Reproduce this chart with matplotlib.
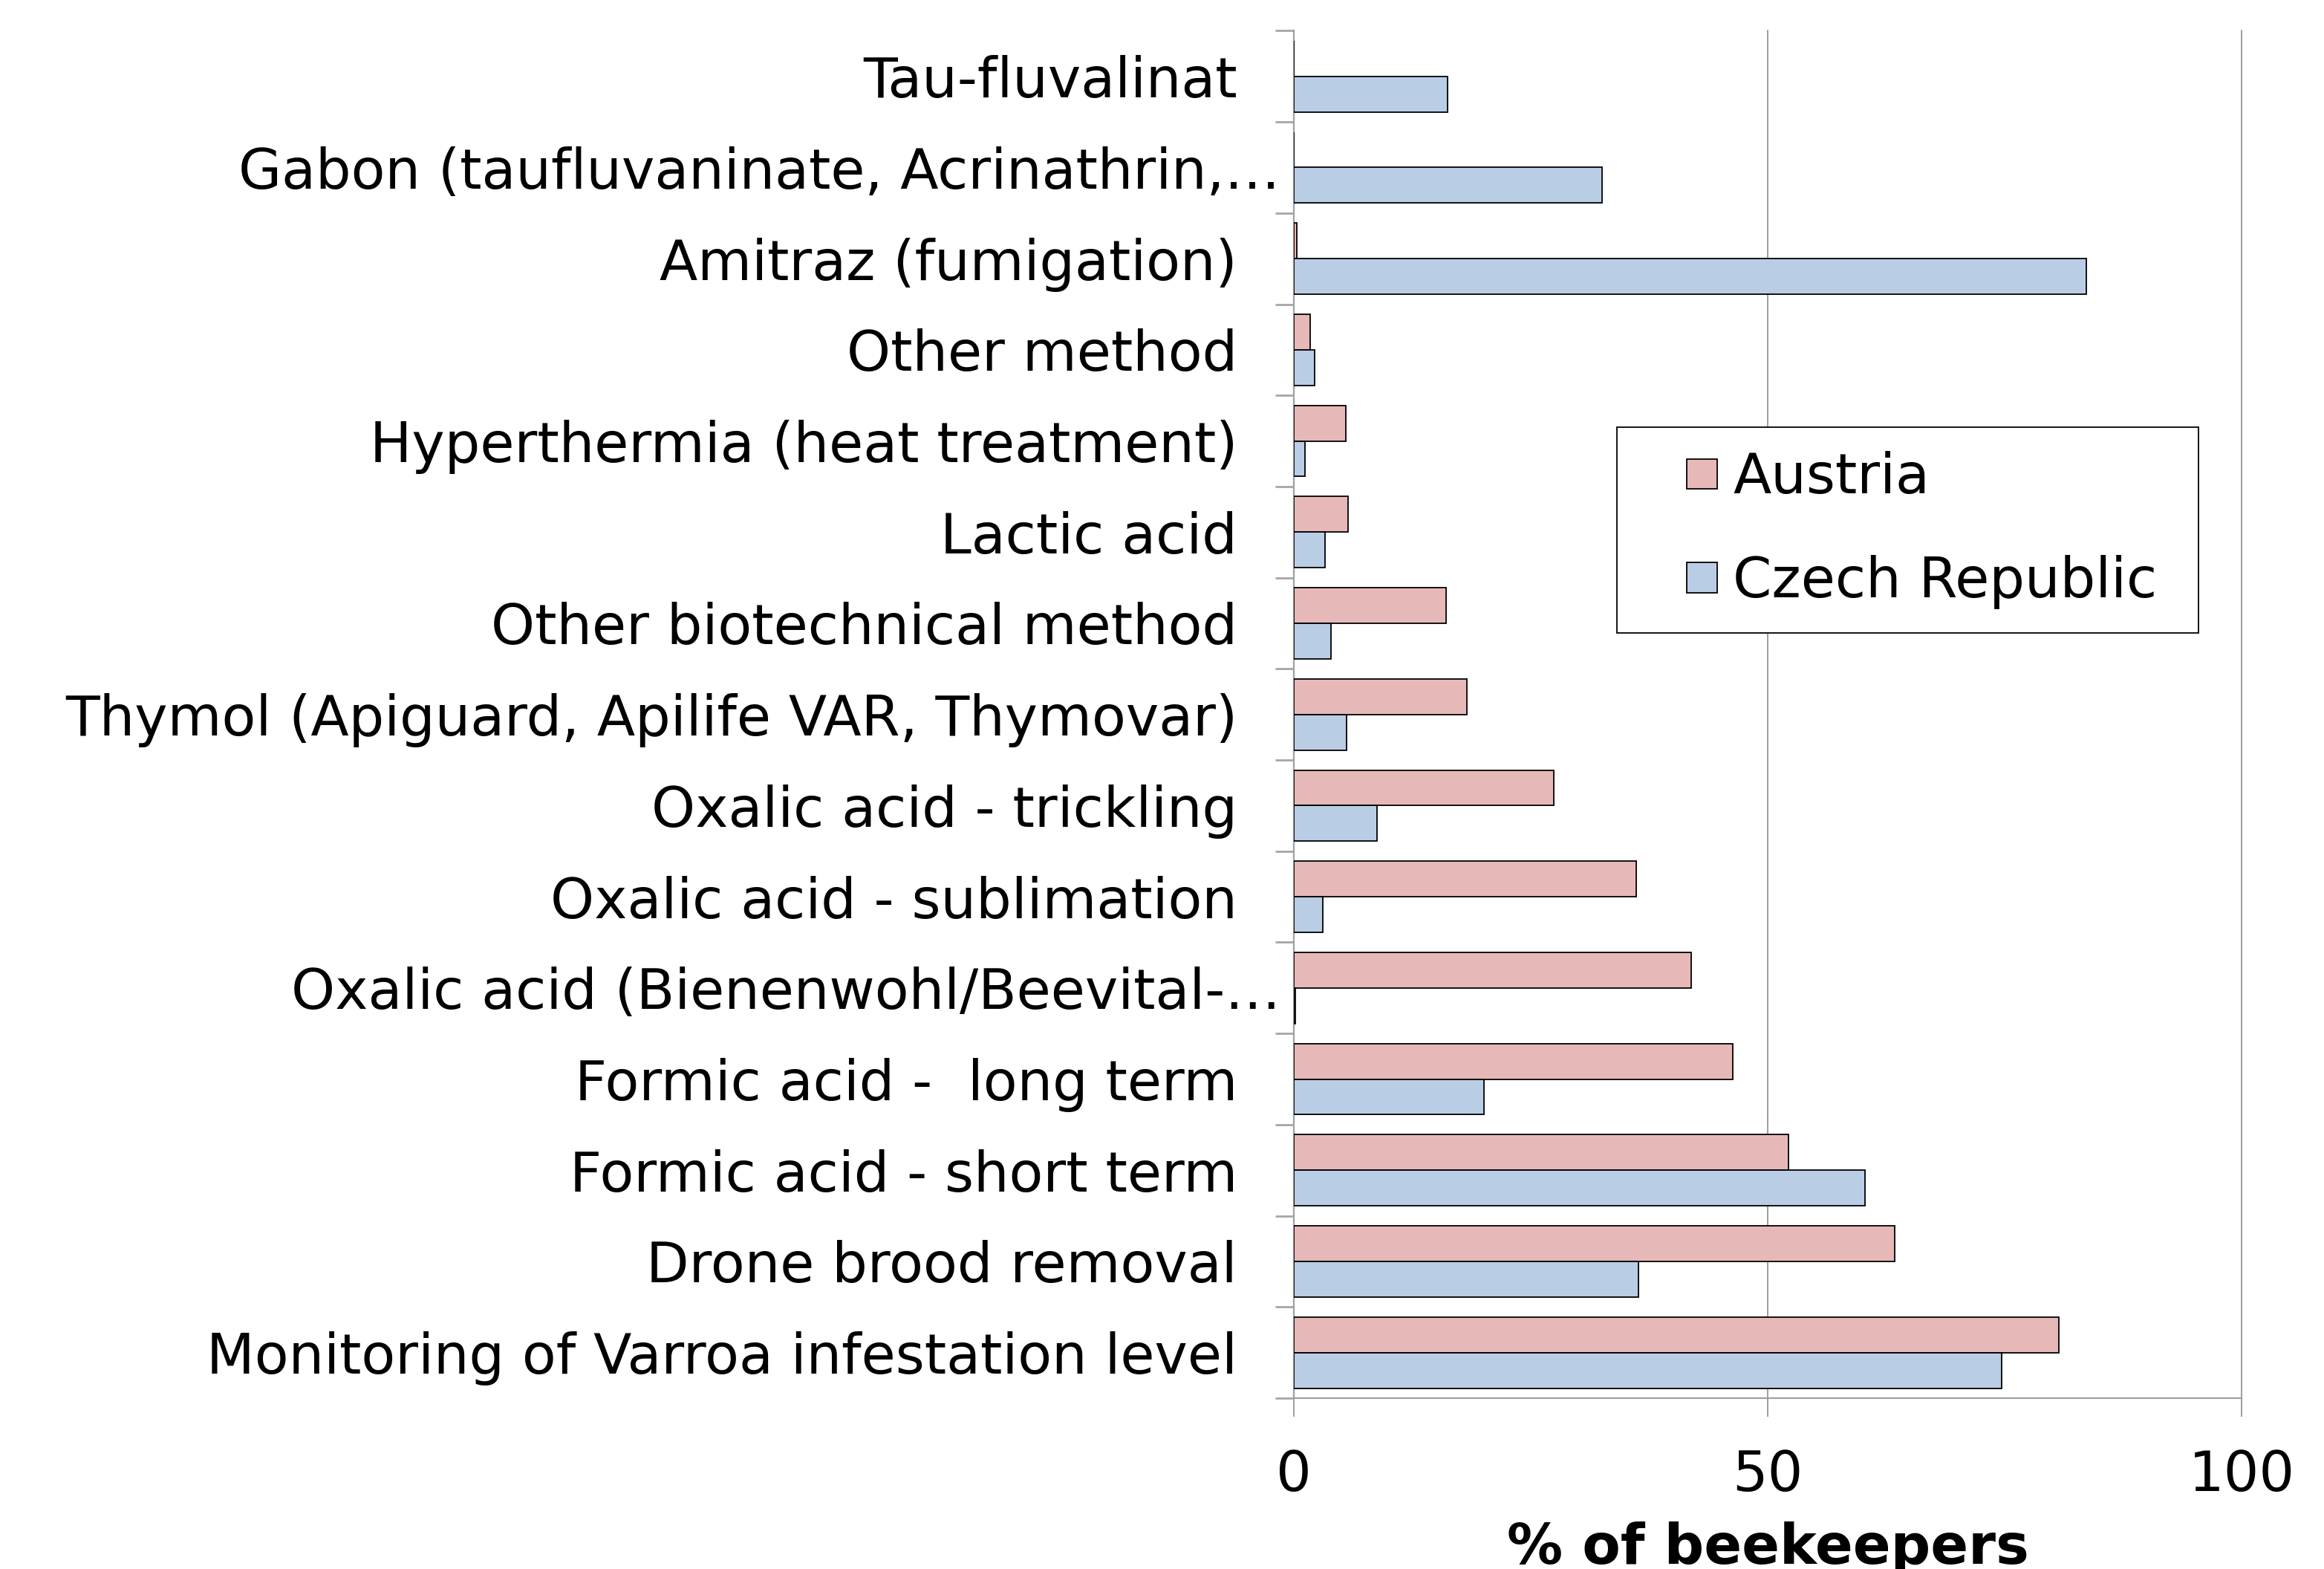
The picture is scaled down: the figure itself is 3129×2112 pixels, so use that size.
import numpy as np
import matplotlib.pyplot as plt
from matplotlib.patches import Patch, Rectangle
from matplotlib.legend_handler import HandlerPatch
from matplotlib.transforms import ScaledTranslation, blended_transform_factory

# categories, top to bottom
methods = [
    'Tau-fluvalinat',
    'Gabon (taufluvaninate, Acrinathrin,\u2026',
    'Amitraz (fumigation)',
    'Other method',
    'Hyperthermia (heat treatment)',
    'Lactic acid',
    'Other biotechnical method',
    'Thymol (Apiguard, Apilife VAR, Thymovar)',
    'Oxalic acid - trickling',
    'Oxalic acid - sublimation',
    'Oxalic acid (Bienenwohl/Beevital-\u2026',
    'Formic acid -  long term',
    'Formic acid - short term',
    'Drone brood removal',
    'Monitoring of Varroa infestation level',
]
truncated = [1, 10]

# % of beekeepers
austria = [0.0, 0.0, 0.3, 1.7, 5.5, 5.7, 16.1, 18.3, 27.4, 36.1,
           41.9, 46.3, 52.2, 63.4, 80.7]
czech = [16.2, 32.5, 83.6, 2.2, 1.2, 3.3, 3.9, 5.6, 8.8, 3.1,
         0.2, 20.1, 60.3, 36.4, 74.7]

C_AT = '#E6B9B8'
C_CZ = '#B9CDE5'
GREY = '#8c8c8c'
FS = 54

plt.rcParams['font.family'] = 'DejaVu Sans'

fig = plt.figure(figsize=(31.29, 21.12), dpi=100)
ax = fig.add_axes([0.5567, 0.1089, 0.4078, 0.8715])

y = np.arange(len(methods))
h = 0.39
ax.barh(y - h / 2, austria, height=h, color=C_AT, edgecolor='black',
        linewidth=1.3, zorder=3)
ax.barh(y + h / 2, czech, height=h, color=C_CZ, edgecolor='black',
        linewidth=1.3, zorder=3)

ax.set_xlim(0, 100)
ax.set_ylim(len(methods) - 0.5, -0.5)

# ticks on category boundaries, labels drawn as text
ax.set_yticks(np.arange(-0.5, len(methods), 1))
ax.set_yticklabels([])
ax.tick_params(axis='y', length=18, width=2, color='#a6a6a6')

ax.set_xticks([0, 50, 100])
ax.tick_params(axis='x', length=18, width=1.2, color=GREY, pad=31,
               labelsize=FS)

trans = blended_transform_factory(ax.transAxes, ax.transData)
for i, name in enumerate(methods):
    dx = -0.18 if i in truncated else -0.76
    off = ScaledTranslation(dx, 0, fig.dpi_scale_trans)
    ax.text(0, i, name, transform=trans + off, ha='right',
            va='center_baseline', fontsize=FS)

ax.xaxis.grid(True, color=GREY, linewidth=1.2, clip_on=False)
ax.set_axisbelow(True)
for side in ['top', 'right']:
    ax.spines[side].set_visible(False)
for side in ['left', 'bottom']:
    ax.spines[side].set_color('#a0a0a0')
    ax.spines[side].set_linewidth(1.6)

ax.set_xlabel('% of beekeepers', fontsize=FS, fontweight='bold')
ax.xaxis.set_label_coords(0.5, -0.09)


def square(legend, orig_handle, xdescent, ydescent, width, height, fontsize):
    sq = 29.5
    return Rectangle((-xdescent + width - sq, -ydescent + (height - sq) / 2),
                     sq, sq)


handles = [Patch(facecolor=C_AT, edgecolor='black', linewidth=1.3),
           Patch(facecolor=C_CZ, edgecolor='black', linewidth=1.3)]
leg = ax.legend(handles, ['Austria', 'Czech Republic'],
                handler_map={Patch: HandlerPatch(patch_func=square)},
                loc='upper left', mode='expand',
                bbox_to_anchor=(0.69575, 0.59659, 0.25024, 0.13116),
                bbox_transform=fig.transFigure, borderaxespad=0,
                fontsize=FS, handlelength=1.37, handletextpad=0.28,
                labelspacing=0.89, borderpad=0.43, fancybox=False,
                framealpha=1)
leg.get_frame().set_edgecolor('black')
leg.get_frame().set_linewidth(1.3)

fig.savefig('out.png', dpi=100)
